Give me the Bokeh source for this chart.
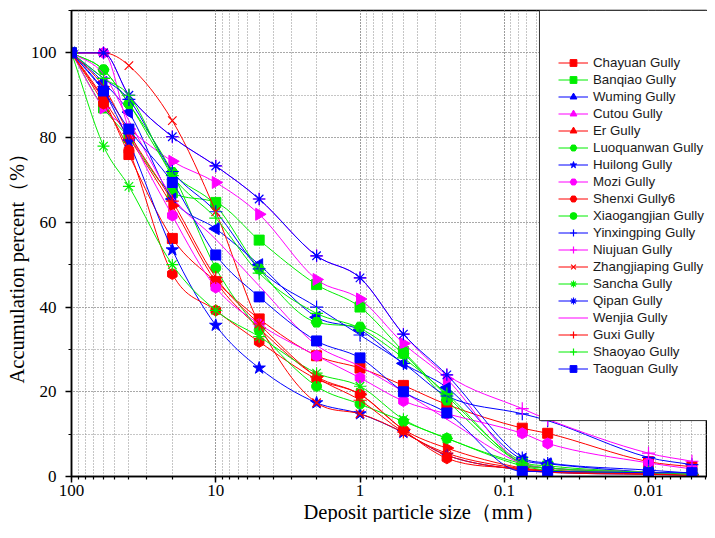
import math
from bokeh.plotting import figure
from bokeh.models import (Range1d, LogTicker, SingleIntervalTicker, CustomJSTickFormatter,
                          Legend, LegendItem, BoxAnnotation, Title)
from bokeh.embed import file_html
from bokeh.resources import INLINE

# ---------------- data ----------------
sizes = [100, 60, 40, 20, 10, 5, 2, 1, 0.5, 0.25, 0.075, 0.05, 0.01, 0.005]

chayuan      = [100, 89, 76, 56.2, 46, 37.2, 28.5, 25.6, 21.5, 17, 11.4, 10.2, 3.5, 2.3]
banqiao      = [100, 87, 80, 67, 64.7, 55.8, 45.3, 40, 29.5, 19, 3.5, 2.5, 1, 0.6]
wuming       = [100, 93, 86, 65.5, 58.5, 50, 37.6, 34.6, 26.7, 21, 4, 3, 1, 0.5]
cutou        = [100, 87, 82, 74.4, 69.4, 61.9, 46.5, 41.9, 31.4, 23, 3, 2, 1, 0.5]
er           = [100, 89, 80, 63.9, 46, 35, 23.6, 19.4, 11.1, 6.7, 2, 1.5, 0.8, 0.4]
luoquanwan   = [100, 96, 88, 71.8, 64, 49, 36.4, 35.3, 29, 18, 3, 2, 1, 0.5]
huilong      = [100, 91, 79, 53.5, 35.7, 25.6, 17.4, 14.8, 10.4, 5, 1.5, 1, 0.5, 0.3]
mozi         = [100, 100, 82, 61.6, 44.6, 36, 28.5, 23.3, 17.8, 14.8, 10.2, 7.8, 3.2, 1.8]
shenxi6      = [100, 88, 77, 47.8, 39.2, 31.8, 23, 19.4, 11, 4.3, 1.8, 1.2, 0.8, 0.4]
xiaogangjian = [100, 96, 88, 71.8, 49.2, 34.6, 21.3, 17.1, 13, 9, 2.5, 1.5, 0.8, 0.4]
yinxingping  = [100, 94, 89, 72, 62.5, 49, 40, 33.4, 26.7, 19, 14.8, 13.2, 4.5, 2.8]
niujuan      = [100, 100, 90, 80.2, 73.3, 65.5, 52.1, 46.9, 33.6, 24, 16, 13.5, 5.5, 3.6]
zhangjiaping = [100, 100, 97, 84, 62.5, 36, 17.4, 14.8, 10.4, 5, 1.5, 1, 0.5, 0.3]
sancha       = [100, 78, 68.5, 50, 39.2, 33, 24.4, 21.3, 13.5, 9, 3, 2, 1, 0.5]
qipan        = [100, 100, 90, 80.2, 73.3, 65.5, 52.1, 46.9, 33.6, 24, 4.5, 3.2, 1.5, 0.8]
wenjia       = [100, 95, 84, 66, 56, 45, 31, 26, 20, 13.5, 3, 2, 1, 0.5]
guxi         = [100, 92, 81, 65, 47, 36, 23.5, 18, 10.5, 5.5, 1.8, 1.2, 0.6, 0.3]
shaoyao      = [100, 94, 90, 71, 61, 48, 38.5, 35, 28, 19.5, 3, 2, 1, 0.5]
taoguan      = [100, 91, 82, 69.4, 52.3, 42.4, 32, 28, 20, 15, 1.2, 1.2, 0.9, 0.9]

names = ["Chayuan Gully", "Banqiao Gully", "Wuming Gully", "Cutou Gully", "Er Gully",
         "Luoquanwan Gully", "Huilong Gully", "Mozi Gully", "Shenxi Gully6",
         "Xiaogangjian Gully", "Yinxingping Gully", "Niujuan Gully", "Zhangjiaping Gully",
         "Sancha Gully", "Qipan Gully", "Wenjia Gully", "Guxi Gully", "Shaoyao Gully",
         "Taoguan Gully"]
series = [chayuan, banqiao, wuming, cutou, er, luoquanwan, huilong, mozi, shenxi6,
          xiaogangjian, yinxingping, niujuan, zhangjiaping, sancha, qipan, wenjia,
          guxi, shaoyao, taoguan]

RED, GREEN, BLUE, MAG = "#FF0000", "#00EE00", "#0000FF", "#FF00FF"
colors = [RED, GREEN, BLUE, MAG, RED, GREEN, BLUE, MAG, RED, GREEN, BLUE, MAG, RED,
          GREEN, BLUE, MAG, RED, GREEN, BLUE]
# (marker, size, angle)
styles = [("square", 10, 0), ("square", 10, 0), ("triangle", 12, math.pi / 2),
          ("triangle", 12, -math.pi / 2), ("triangle", 12, -math.pi / 2), ("hex", 11, 0),
          ("star", 13, 0), ("hex", 11, math.pi / 2), ("hex", 11, math.pi / 2),
          ("circle", 10, 0), ("cross", 13, 0), ("cross", 13, 0), ("x", 12, 0),
          ("asterisk", 12, 0), ("asterisk", 12, 0), (None, 0, 0), ("cross", 13, 0),
          ("cross", 13, 0), ("square", 10, 0)]

y_ticks_interval = 20
x_tick_labels = {"100": "100", "10": "10", "1": "1", "0.1": "0.1", "0.01": "0.01"}
x_title = "Deposit particle size（mm）"
y_title = "Accumulation percent（%）"

# ---------------- figure ----------------
p = figure(width=707, height=522, x_axis_type="log",
           x_range=Range1d(100, 0.0039), y_range=Range1d(0, 110),
           output_backend="svg", toolbar_location=None,
           min_border_left=71, min_border_right=0, min_border_top=10, min_border_bottom=46)

p.outline_line_color = "black"
p.outline_line_width = 1.5
p.background_fill_color = "white"

serif = "'Liberation Serif'"
for ax in (p.xaxis[0], p.yaxis[0]):
    ax.axis_line_color = "black"
    ax.axis_line_width = 1.5
    ax.major_tick_line_color = "black"
    ax.minor_tick_line_color = "black"
    ax.major_tick_line_width = 1.5
    ax.minor_tick_line_width = 1.2
    ax.major_tick_in = 0
    ax.major_tick_out = 6
    ax.minor_tick_in = 0
    ax.minor_tick_out = 3
    ax.major_label_text_font = serif
    ax.major_label_text_font_size = "17px"
    ax.major_label_text_color = "black"

p.xaxis.ticker = LogTicker(num_minor_ticks=10)
p.xaxis.formatter = CustomJSTickFormatter(
    args=dict(labels=x_tick_labels),
    code="const k = String(parseFloat(tick.toPrecision(6))); return (k in labels) ? labels[k] : k;")
p.xaxis.major_label_standoff = 2

p.yaxis.ticker = SingleIntervalTicker(interval=y_ticks_interval, num_minor_ticks=2)
p.yaxis.major_label_standoff = 9

xt = Title(text=x_title, align="left", offset=232, standoff=0,
           text_font=serif, text_font_size="20.5px", text_font_style="normal",
           text_color="black")
p.add_layout(xt, "below")

yt = Title(text=y_title, align="left", offset=93, standoff=0,
           text_font=serif, text_font_size="20.5px", text_font_style="normal",
           text_color="black")
p.add_layout(yt, "left")

for g in (p.xgrid[0], p.ygrid[0]):
    g.grid_line_color = "#8c8c8c"
    g.grid_line_dash = "1 2"
    g.grid_line_width = 1
    g.minor_grid_line_color = "#8c8c8c"
    g.minor_grid_line_dash = "1 2"
    g.minor_grid_line_width = 1


def bezier_parts(xs, ys):
    u = [math.log10(v) for v in xs]
    n = len(u)
    h = [u[i + 1] - u[i] for i in range(n - 1)]
    d = [(ys[i + 1] - ys[i]) / h[i] for i in range(n - 1)]
    m = [0.0] * n
    m[0] = d[0]
    m[-1] = d[-1]
    for i in range(1, n - 1):
        m[i] = 0.0 if d[i - 1] * d[i] <= 0 else (d[i - 1] + d[i]) / 2
    for k in range(n - 1):
        if d[k] == 0:
            m[k] = m[k + 1] = 0.0
            continue
        a, b = m[k] / d[k], m[k + 1] / d[k]
        s = a * a + b * b
        if s > 9:
            t = 3 / math.sqrt(s)
            m[k], m[k + 1] = t * a * d[k], t * b * d[k]
    out = dict(x0=[], y0=[], x1=[], y1=[], cx0=[], cy0=[], cx1=[], cy1=[])
    for k in range(n - 1):
        out["x0"].append(xs[k]); out["y0"].append(ys[k])
        out["x1"].append(xs[k + 1]); out["y1"].append(ys[k + 1])
        out["cx0"].append(10 ** (u[k] + h[k] / 3)); out["cy0"].append(ys[k] + m[k] * h[k] / 3)
        out["cx1"].append(10 ** (u[k + 1] - h[k] / 3)); out["cy1"].append(ys[k + 1] - m[k + 1] * h[k] / 3)
    return out


items = []
for name, vals, col, (mk, sz, ang) in zip(names, series, colors, styles):
    xs = [s for s, v in zip(sizes, vals) if v is not None]
    ys = [v for v in vals if v is not None]
    bz = p.bezier(line_color=col, line_width=1, **bezier_parts(xs, ys))
    rends = [bz]
    if mk is not None:
        if mk in ("cross", "x", "asterisk"):
            sc = p.scatter(xs, ys, marker=mk, size=sz, line_color=col, line_width=1.2)
        else:
            sc = p.scatter(xs, ys, marker=mk, size=sz, angle=ang, fill_color=col,
                           line_color=col, line_width=1)
        rends.append(sc)
    items.append(LegendItem(label=name, renderers=rends))

box = BoxAnnotation(left=0.057, bottom=13.2, fill_color="white", fill_alpha=1,
                    line_color="#333333", line_width=1, line_alpha=1)
p.add_layout(box)

legend = Legend(items=items, location=(468, 80), padding=19, margin=0,
                glyph_width=30, glyph_height=17, label_height=17, spacing=0,
                label_standoff=5, label_text_font="Liberation Sans",
                label_text_font_size="13.3px", label_text_color="#1a1a1a",
                background_fill_alpha=0, border_line_alpha=0)
p.add_layout(legend)

open("out.html", "w").write(file_html(p, INLINE))
